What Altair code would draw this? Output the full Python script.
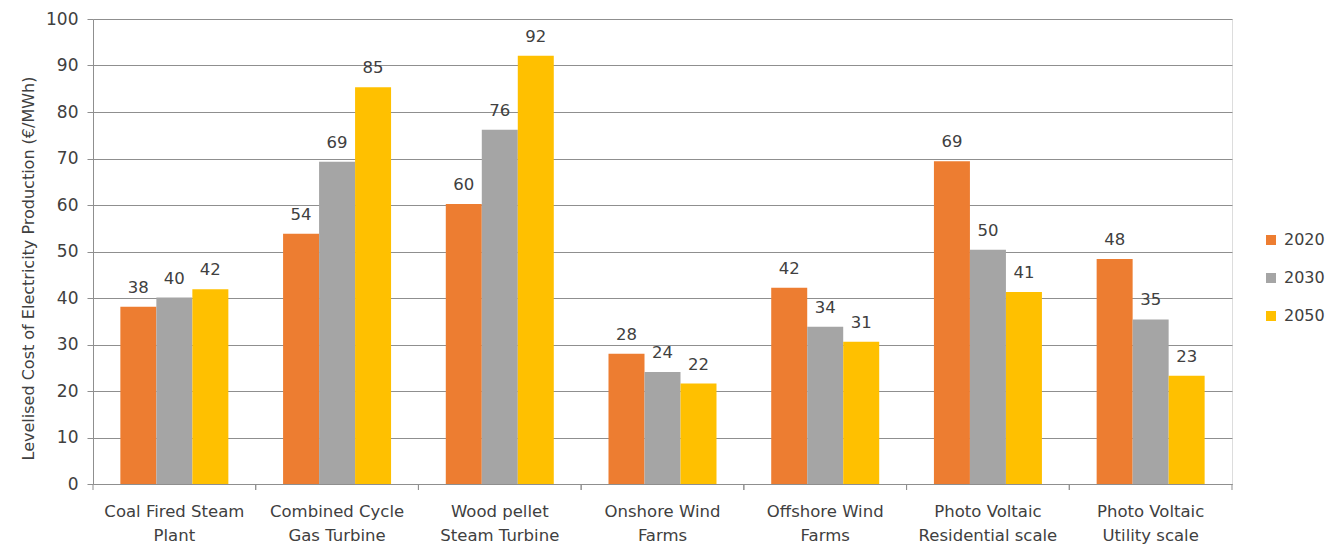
import altair as alt
import pandas as pd

categories = ["Coal Fired Steam\nPlant", "Combined Cycle\nGas Turbine", "Wood pellet\nSteam Turbine",
              "Onshore Wind\nFarms", "Offshore Wind\nFarms", "Photo Voltaic\nResidential scale",
              "Photo Voltaic\nUtility scale"]
years = ["2020", "2030", "2050"]
values_2020 = [38.1, 53.8, 60.2, 28.0, 42.2, 69.4, 48.4]
values_2030 = [40.1, 69.3, 76.2, 24.1, 33.8, 50.4, 35.4]
values_2050 = [41.9, 85.3, 92.1, 21.6, 30.6, 41.3, 23.3]
colors = ["#ED7D31", "#A5A5A5", "#FFC000"]

rows = []
for yr, vals in zip(years, [values_2020, values_2030, values_2050]):
    for c, v in zip(categories, vals):
        rows.append({"cat": c, "year": yr, "value": v})
df = pd.DataFrame(rows)
cat_df = pd.DataFrame({"cat": categories})

FONT = "DejaVu Sans"
TXT = "#404040"
W, H = 1139, 465

xenc = alt.X("cat:N", sort=categories, title=None,
             scale=alt.Scale(paddingInner=0, paddingOuter=0),
             axis=alt.Axis(labelExpr="split(datum.label, '\\n')", ticks=False, domain=True,
                           domainColor="#8f8f8f", labelFontSize=16.5, labelFont=FONT, labelColor=TXT,
                           labelPadding=19, labelLineHeight=24, labelAngle=0, grid=False))
xoff = alt.XOffset("year:N", sort=years, scale=alt.Scale(paddingOuter=0.76, paddingInner=0))
yenc = alt.Y("value:Q", title="Levelised Cost of Electricity Production (€/MWh)",
             scale=alt.Scale(domain=[0, 100], nice=False),
             axis=alt.Axis(values=list(range(0, 101, 10)), grid=True, gridColor="#8f8f8f",
                           domainColor="#8f8f8f", tickColor="#8f8f8f", tickSize=6,
                           labelFontSize=17, labelFont=FONT, labelColor=TXT, labelPadding=9,
                           titleFontSize=16, titleFont=FONT, titleColor=TXT,
                           titleFontWeight="normal", titlePadding=9, titleY=249))

bars = alt.Chart(df).mark_bar().encode(
    x=xenc, xOffset=xoff, y=yenc,
    color=alt.Color("year:N", sort=years, scale=alt.Scale(domain=years, range=colors),
                    legend=alt.Legend(title=None, orient="none", legendX=1170, legendY=213,
                                      symbolType="square", symbolSize=100, symbolStrokeWidth=0,
                                      labelFontSize=16, labelFont=FONT, labelColor=TXT,
                                      rowPadding=22, labelOffset=5)),
)

labels = alt.Chart(df).mark_text(baseline="bottom", dy=-11, fontSize=16.5, font=FONT, color=TXT).encode(
    x=alt.X("cat:N", sort=categories), xOffset=xoff, y=alt.Y("value:Q"),
    text=alt.Text("value:Q", format=".0f"),
)

ticks_left = alt.Chart(cat_df).mark_rule(color="#8f8f8f").encode(
    x=alt.X("cat:N", sort=categories, bandPosition=0), y=alt.value(H), y2=alt.value(H + 6))
ticks_right = alt.Chart(cat_df).mark_rule(color="#8f8f8f").encode(
    x=alt.X("cat:N", sort=categories, bandPosition=1), y=alt.value(H), y2=alt.value(H + 6))

chart = alt.layer(bars, labels, ticks_left, ticks_right).properties(
    width=W, height=H,
    autosize=alt.AutoSizeParams(type="none"),
    padding={"left": 93, "top": 19, "right": 94, "bottom": 61},
).configure_view(stroke=None).configure(background="white")

chart.save("out.html", embed_options={"renderer": "svg", "actions": False})
